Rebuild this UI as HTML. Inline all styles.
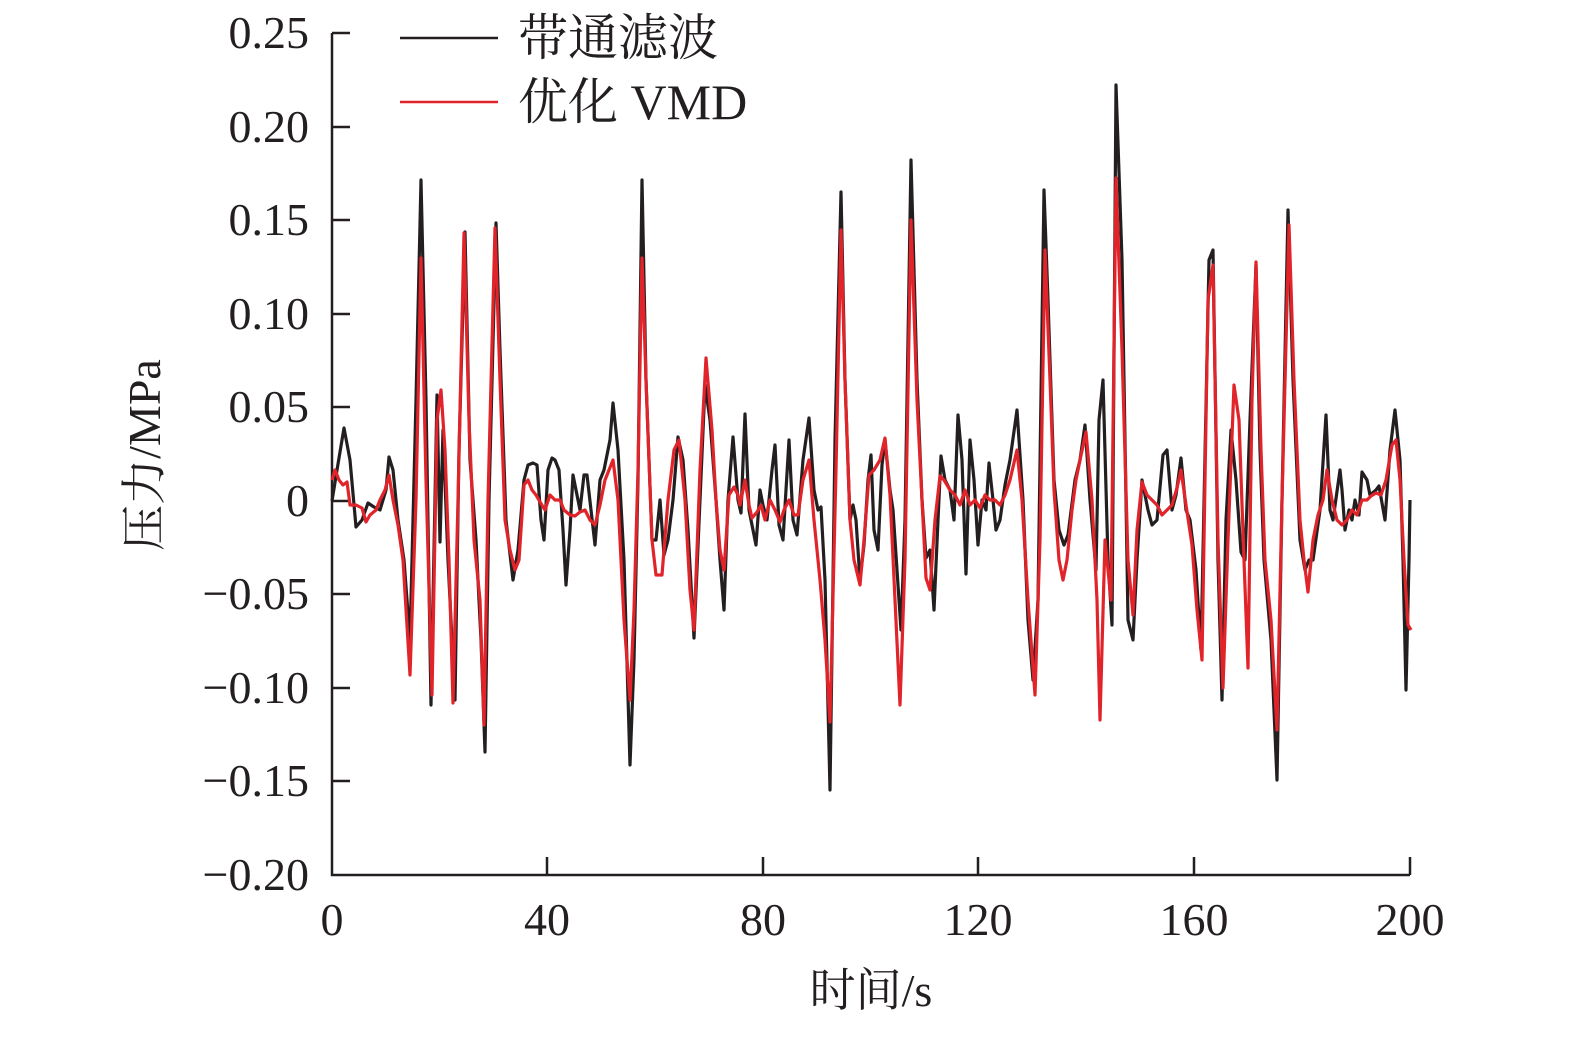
<!DOCTYPE html>
<html><head><meta charset="utf-8"><style>body{margin:0;background:#fff}</style></head><body>
<svg width="1575" height="1033" viewBox="0 0 1575 1033" xmlns="http://www.w3.org/2000/svg" font-family="'Liberation Serif','Noto Serif CJK SC',serif">
<g stroke="#231f20" stroke-width="2.5" fill="none">
<path d="M332,33V875H1410"/>
<path d="M332,33h18M332,127h18M332,220h18M332,314h18M332,407h18M332,501h18M332,594h18M332,688h18M332,781h18"/>
<path d="M547,875v-18M763,875v-18M978,875v-18M1194,875v-18M1410,875v-18"/>
</g>
<g font-size="46" fill="#231f20" text-anchor="end">
<text x="309" y="48">0.25</text><text x="309" y="142">0.20</text><text x="309" y="235">0.15</text><text x="309" y="329">0.10</text><text x="309" y="422">0.05</text><text x="309" y="516">0</text><text x="309" y="609">−0.05</text><text x="309" y="703">−0.10</text><text x="309" y="796">−0.15</text><text x="309" y="890">−0.20</text>
</g>
<g font-size="46" fill="#231f20" text-anchor="middle">
<text x="332" y="935">0</text><text x="547" y="935">40</text><text x="763" y="935">80</text><text x="978" y="935">120</text><text x="1194" y="935">160</text><text x="1410" y="935">200</text>
<text x="871" y="1006">时间/s</text>
<text transform="translate(160,455) rotate(-90)">压力/MPa</text>
</g>
<line x1="400" y1="38" x2="498" y2="38" stroke="#231f20" stroke-width="2.5"/>
<line x1="400" y1="102" x2="498" y2="102" stroke="#e1232a" stroke-width="2.5"/>
<text x="518" y="55" font-size="50" fill="#231f20">带通滤波</text>
<text x="518" y="119" font-size="50" fill="#231f20">优化 VMD</text>
<polyline fill="none" stroke="#231f20" stroke-width="3.2" stroke-linejoin="round" points="332,501 337,470 344,428 350,460 356,527 362,520 368,503 374,507 380,510 386,490 389,457 393,470 398,520 404,560 410,640 416,400 421,180 426,400 431,705 437,395 440,542 443,430 448,560 455,700 459,450 465,232 470,460 476,540 481,640 485,752 489,500 496,223 500,350 506,520 513,580 518,550 524,480 528,465 533,463 537,465 541,520 544,540 548,470 552,458 555,460 559,470 563,530 566,585 570,530 573,475 576,490 580,510 584,475 587,475 591,510 595,545 600,480 604,470 610,440 613,403 618,450 624,560 630,765 634,660 638,480 642,180 646,380 652,540 656,540 660,500 664,555 668,540 673,500 678,437 683,460 688,530 694,638 700,500 705,385 710,420 716,500 720,560 724,610 728,500 733,437 738,500 741,513 745,414 749,510 753,530 756,545 760,490 763,505 767,520 772,470 775,445 779,525 783,540 789,440 793,520 797,535 803,460 809,418 814,490 818,510 821,507 825,580 830,790 835,440 841,192 845,380 850,520 853,505 856,520 860,580 864,545 868,480 871,455 874,530 878,550 882,465 885,440 890,490 893,510 897,570 901,630 905,520 911,160 917,380 922,500 926,558 930,550 934,610 938,520 941,456 945,480 950,490 954,520 958,415 962,460 966,574 970,440 974,480 978,545 982,500 986,510 989,463 993,500 996,530 1000,520 1005,485 1010,460 1017,410 1023,500 1028,620 1033,680 1038,600 1044,190 1048,300 1054,480 1059,530 1064,545 1068,535 1075,480 1080,460 1085,425 1090,500 1096,570 1099,420 1103,380 1108,560 1112,625 1116,85 1122,260 1128,620 1133,640 1137,560 1142,480 1148,510 1152,525 1157,520 1163,455 1167,450 1172,510 1176,495 1181,458 1186,510 1190,520 1196,570 1201,650 1209,260 1213,250 1218,560 1222,700 1226,520 1231,430 1236,480 1241,552 1245,560 1250,420 1256,265 1260,450 1264,560 1271,640 1277,780 1282,500 1288,210 1293,380 1300,540 1305,570 1309,560 1313,560 1320,510 1326,415 1330,510 1333,520 1340,470 1342,490 1345,530 1349,510 1352,520 1355,500 1359,515 1362,472 1367,480 1370,495 1376,490 1379,486 1385,520 1390,450 1395,410 1400,460 1403,560 1406,690 1409,560 1410,500"/>
<polyline fill="none" stroke="#e1232a" stroke-width="3.2" stroke-linejoin="round" points="332,480 335,470 339,480 343,485 347,482 350,505 356,505 362,508 366,522 370,515 376,510 380,500 385,490 389,475 393,500 398,525 403,560 410,675 416,500 421,258 426,480 432,695 437,420 441,390 445,450 449,560 453,703 458,500 464,233 469,420 474,540 480,600 484,725 488,500 495,228 500,380 505,520 510,550 515,570 519,560 524,485 528,480 532,490 536,495 540,502 545,510 550,495 555,500 560,500 564,510 570,515 575,516 580,512 585,510 590,520 595,525 600,505 605,480 613,460 618,500 624,620 630,700 634,610 638,470 642,258 646,380 652,540 656,575 662,575 668,500 674,450 679,440 685,500 690,590 694,630 700,470 706,358 712,430 716,500 720,550 724,570 729,495 734,487 738,495 740,505 745,480 749,505 752,518 757,512 761,505 765,520 770,500 775,510 780,522 784,510 789,500 794,515 798,515 803,480 809,460 814,520 820,580 825,640 830,722 836,470 841,230 845,380 850,520 854,560 860,585 864,540 869,475 874,470 880,460 885,438 890,495 895,600 900,705 905,560 911,220 917,400 922,500 926,578 930,590 935,520 940,476 944,480 950,490 955,495 960,505 965,490 970,505 975,500 980,508 985,495 990,500 995,500 1000,505 1005,495 1010,480 1017,450 1022,500 1028,600 1035,695 1040,540 1045,250 1050,380 1054,490 1059,560 1063,580 1067,560 1072,510 1076,480 1080,460 1086,432 1092,500 1097,600 1100,720 1105,540 1111,600 1116,178 1122,350 1128,560 1133,615 1137,530 1142,482 1147,495 1152,500 1157,505 1162,515 1167,510 1172,505 1177,488 1181,470 1186,505 1192,545 1197,610 1202,660 1208,300 1213,265 1218,540 1223,688 1228,540 1234,385 1239,420 1244,560 1248,668 1252,400 1256,262 1261,450 1265,560 1271,620 1277,730 1282,500 1289,225 1294,380 1300,520 1304,560 1308,592 1313,540 1318,515 1323,500 1327,470 1332,500 1337,520 1342,525 1347,520 1352,510 1357,515 1362,500 1367,500 1371,496 1376,493 1381,495 1386,480 1392,445 1396,440 1400,480 1404,560 1408,625 1411,630"/>
</svg>
</body></html>
